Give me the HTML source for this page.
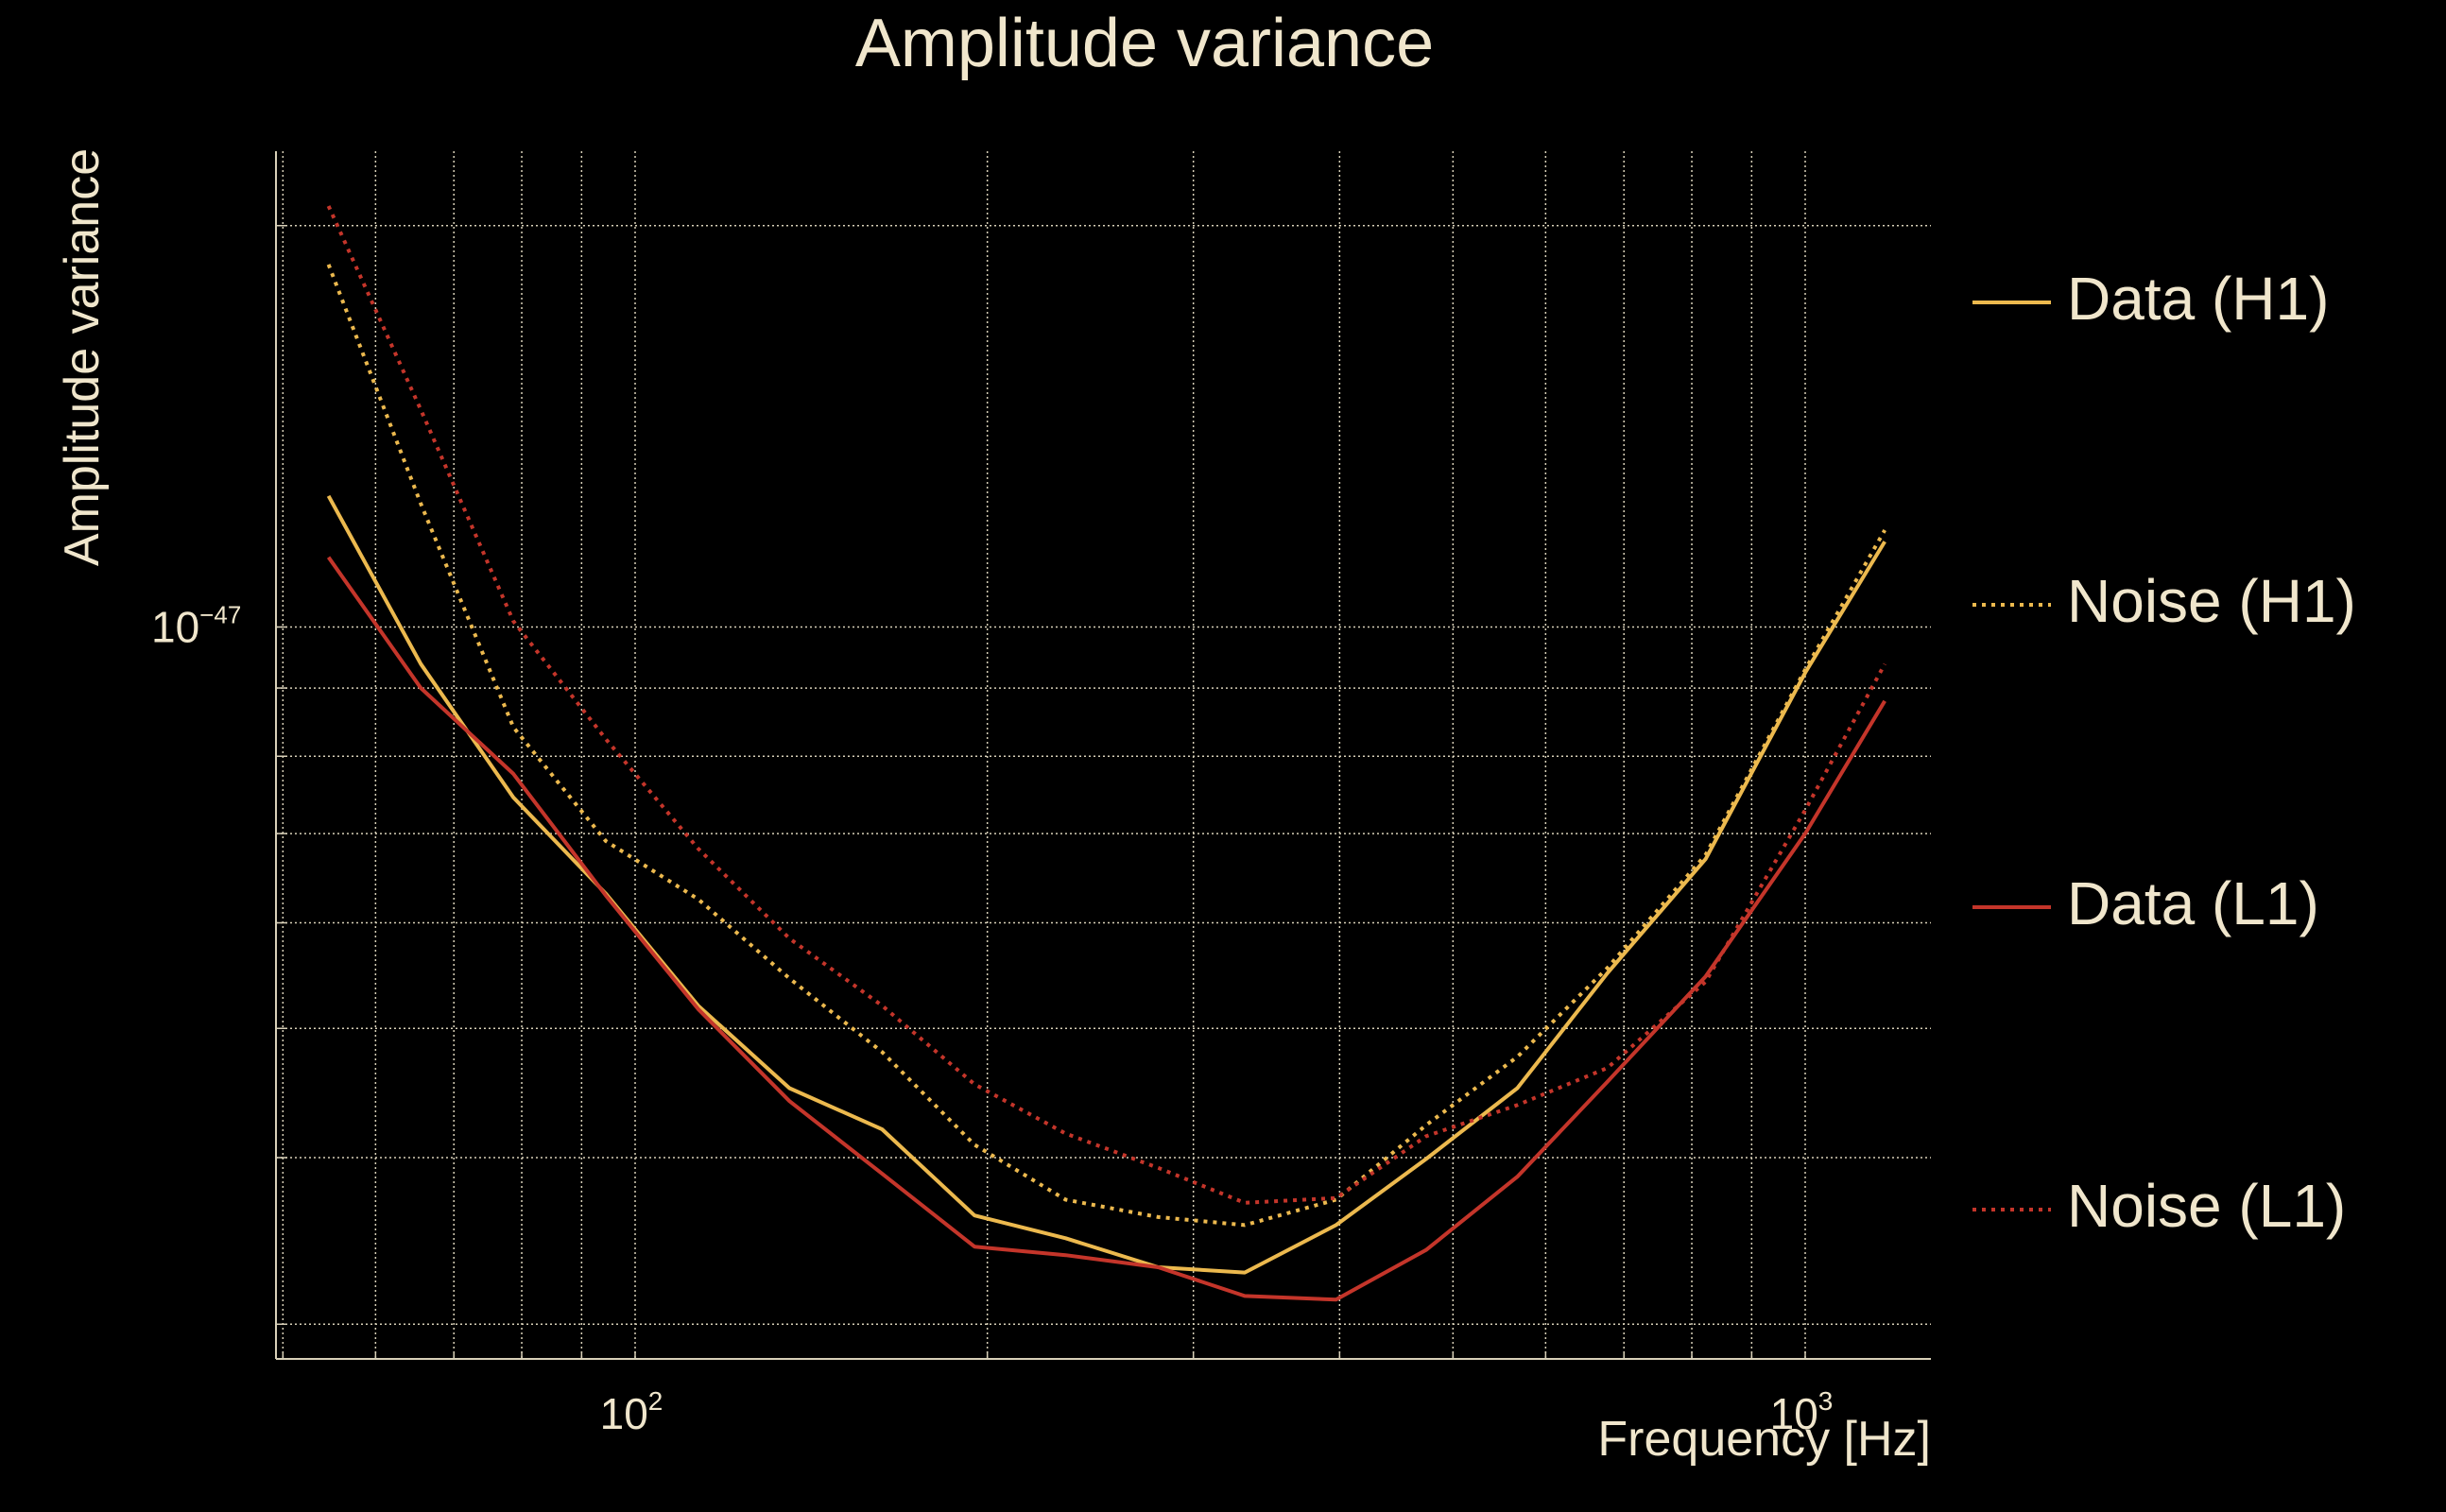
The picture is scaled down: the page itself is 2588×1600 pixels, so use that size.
<!DOCTYPE html>
<html><head><meta charset="utf-8"><style>
html,body{margin:0;padding:0;background:#000;}
svg{display:block;}
text{font-family:"Liberation Sans",sans-serif;fill:#f0e6cc;}
</style></head><body>
<svg id="chart" width="2588" height="1600" viewBox="0 0 2588 1600" xmlns="http://www.w3.org/2000/svg">
<rect width="2588" height="1600" fill="#000"/>
<text x="1211" y="70" font-size="72" text-anchor="middle">Amplitude variance</text>
<text transform="translate(104,378) rotate(-90)" font-size="52" text-anchor="middle">Amplitude variance</text>
<text x="2043" y="1540" font-size="52" text-anchor="end">Frequency [Hz]</text>
<g id="grid"></g><g id="series"></g><g id="axes"></g><g id="legend"></g>
</svg>
<script>
const freqs = [54.7,65.6,78.7,94.4,113.2,135.5,162.6,195,233.3,279.9,331.9,397.2,474.2,567.5,677.5,822.2,1000,1169.5];
// values in units of 1e-48
const dataH1 = [12.54,9.38,7.45,6.31,5.20,4.51,4.20,3.62,3.48,3.31,3.28,3.56,3.99,4.51,5.50,6.70,9.24,11.59];
const noiseH1 = [18.70,12.37,8.41,6.91,6.25,5.45,4.80,4.09,3.72,3.61,3.56,3.72,4.23,4.76,5.55,6.75,9.29,11.82];
const dataL1 = [11.28,9.00,7.76,6.29,5.17,4.41,3.89,3.43,3.38,3.31,3.15,3.13,3.41,3.87,4.56,5.47,7.00,8.80];
const noiseL1 = [20.69,14.55,10.10,8.24,6.82,5.84,5.20,4.54,4.17,3.93,3.70,3.73,4.15,4.38,4.67,5.42,7.29,9.38];
const seriesNames = ["Data (H1)","Noise (H1)","Data (L1)","Noise (L1)"];
const xGridVals = [50,60,70,80,90,100,200,300,400,500,600,700,800,900,1000];
const yGridVals = [3,4,5,6,7,8,9,10,20];
const xTickLabels = [[100,"2"],[1000,"3"]];
const yTickLabels = [[10,"−47"]];

const X0=292, X1=2043, Y0=160, Y1=1438;
function xs(f){return 672+(Math.log10(f)-2)*1238;}
function ys(v){return 663.5-(Math.log10(v)-1)*1411;}
const NS="http://www.w3.org/2000/svg";
function mk(tag,attrs,parent){const e=document.createElementNS(NS,tag);for(const k in attrs)e.setAttribute(k,attrs[k]);parent.appendChild(e);return e;}
const grid=document.getElementById('grid'),axes=document.getElementById('axes'),ser=document.getElementById('series'),leg=document.getElementById('legend');
const gc="#d8d0b8";
xGridVals.forEach(f=>{const x=xs(f);
 const l=mk('line',{x1:x,x2:x,y1:Y0,y2:Y1,stroke:gc,'stroke-width':1.5,'stroke-dasharray':'2,3'},grid);
 
 
 const t=mk('line',{x1:x,x2:x,y1:Y1,y2:Y1-8,stroke:gc,'stroke-width':1.5},axes);
 
 
});
yGridVals.forEach(v=>{const y=ys(v);
 const l=mk('line',{x1:X0,x2:X1,y1:y,y2:y,stroke:gc,'stroke-width':1.5,'stroke-dasharray':'2,3'},grid);
 
 
 const t=mk('line',{x1:X0,x2:X0+12,y1:y,y2:y,stroke:gc,'stroke-width':1.5},axes);
 
 
});
const sp1=mk('line',{x1:X0,x2:X0,y1:Y0,y2:Y1,stroke:gc,'stroke-width':2},axes);


const sp2=mk('line',{x1:X0,x2:X1,y1:Y1,y2:Y1,stroke:gc,'stroke-width':2},axes);


xTickLabels.forEach(([f,e])=>{
 const t=mk('text',{x:xs(f)-4,y:1512,'font-size':46,'text-anchor':'middle'},axes);
 
 
 t.textContent="10";
 const s=mk('tspan',{dy:-20,'font-size':28},t);s.textContent=e;
});
yTickLabels.forEach(([v,e])=>{
 const t=mk('text',{x:160,y:ys(v)+16,'font-size':46},axes);
 
 
 t.textContent="10";
 const s=mk('tspan',{dy:-20,'font-size':26},t);s.textContent=e;
});
const gold="#ecb94e",red="#c4352a";
const defs=[[dataH1,gold,null,'data-h1-line'],[noiseH1,gold,'4,6','noise-h1-line'],[dataL1,red,null,'data-l1-line'],[noiseL1,red,'4,6','noise-l1-line']];
defs.forEach(([vals,c,dash,name],i)=>{
 const d=vals.map((v,j)=>(j?'L':'M')+xs(freqs[j]).toFixed(1)+','+ys(v).toFixed(1)).join(' ');
 const a={d:d,fill:'none',stroke:c,'stroke-width':4,'stroke-linejoin':'round'};
 if(dash)a['stroke-dasharray']=dash;
 const p=mk('path',a,ser);
 
 
 const ly=320+i*320;
 const la={x1:2087,x2:2170,y1:ly,y2:ly,stroke:c,'stroke-width':4};
 if(dash)la['stroke-dasharray']=dash;
 const g=mk('g',{},leg);
 
 
 mk('line',la,g);
 const t=mk('text',{x:2187,y:ly+18,'font-size':64},g);
 t.textContent=seriesNames[i];
});
</script>
</body></html>
